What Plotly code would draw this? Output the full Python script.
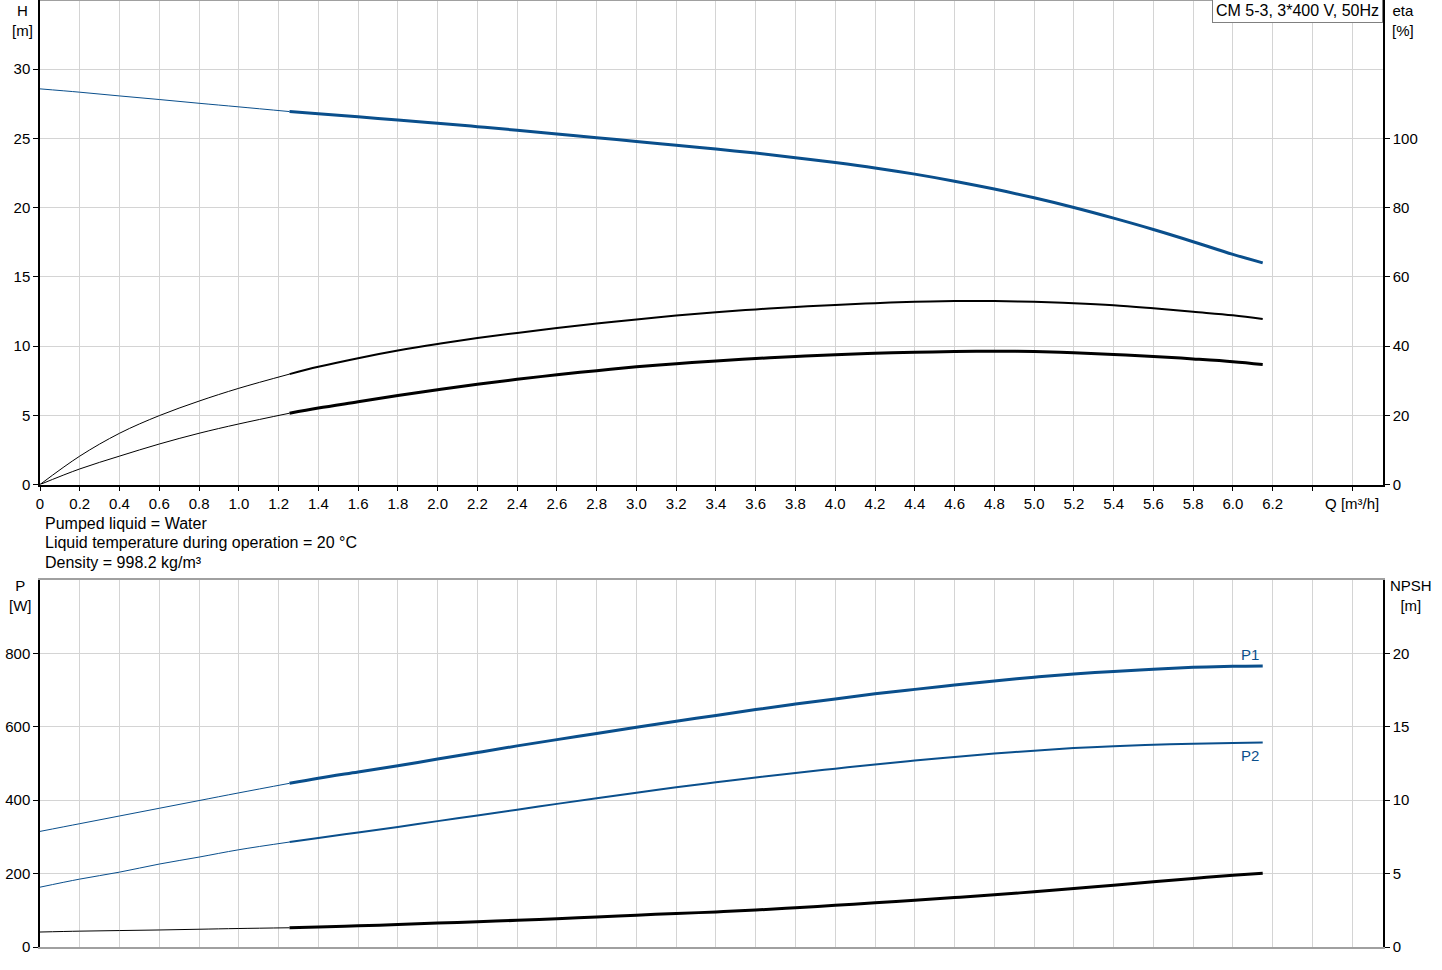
"""
Pump performance curves for CM 5-3 (head / efficiency and power / NPSH).
"""
import plotly.graph_objects as go

# flow rate [m3/h] - thin extension and normal operating range
q_ext = [0, 0.2, 0.4, 0.6, 0.8, 1.0, 1.255]
q_main = [1.255, 1.4, 1.6, 1.8, 2.0, 2.2, 2.4, 2.6, 2.8, 3.0, 3.2, 3.4, 3.6,
          3.8, 4.0, 4.2, 4.4, 4.6, 4.8, 5.0, 5.2, 5.4, 5.6, 5.8, 6.0, 6.15]

# head H [m]
h_ext = [28.58, 28.34, 28.07, 27.81, 27.54, 27.28, 26.94]
h_main = [26.94, 26.79, 26.56, 26.33, 26.10, 25.85, 25.59, 25.32, 25.05, 24.78,
          24.51, 24.23, 23.94, 23.61, 23.26, 22.87, 22.42, 21.91, 21.34, 20.71,
          20.01, 19.24, 18.42, 17.54, 16.62, 16.01]

# pump efficiency and total efficiency [%]
eta_p_ext = [0, 8.2, 14.8, 19.9, 24.1, 27.8, 31.9]
eta_p_main = [31.9, 34.0, 36.5, 38.7, 40.6, 42.3, 43.8, 45.2, 46.5, 47.7, 48.8,
              49.8, 50.6, 51.3, 51.9, 52.4, 52.8, 53.0, 53.0, 52.8, 52.4, 51.8,
              50.9, 49.9, 48.9, 47.8]
eta_ext = [0, 4.5, 8.2, 11.7, 14.8, 17.5, 20.6]
eta_main = [20.6, 22.1, 23.9, 25.7, 27.4, 29.0, 30.4, 31.7, 32.9, 34.0, 34.9,
            35.7, 36.4, 37.0, 37.5, 37.9, 38.2, 38.4, 38.5, 38.4, 38.1, 37.6,
            37.0, 36.3, 35.5, 34.7]

# power P1 / P2 [W]
p1_ext = [315, 336, 357, 378, 399, 420, 446]
p1_main = [446, 460, 477, 494, 512, 530, 548, 565, 582, 599, 615, 631, 647,
           662, 676, 690, 702, 714, 725, 735, 744, 751, 757, 762, 765, 766]
p2_ext = [163, 185, 204, 226, 245, 265, 286]
p2_main = [286, 297, 312, 327, 343, 358, 374, 390, 405, 420, 435, 449, 462,
           474, 486, 497, 508, 518, 527, 535, 542, 547, 551, 554, 556, 557]

# NPSH [m]
npsh_ext = [1.02, 1.08, 1.12, 1.16, 1.21, 1.26, 1.31]
npsh_main = [1.31, 1.36, 1.44, 1.53, 1.63, 1.72, 1.82, 1.93, 2.05, 2.17, 2.28,
             2.39, 2.52, 2.67, 2.84, 3.01, 3.19, 3.37, 3.56, 3.76, 3.98, 4.21,
             4.44, 4.67, 4.88, 5.02]

# axis ticks
q_ticks = [round(i * 0.2, 1) for i in range(34)]
q_labels = ["0"] + ["%.1f" % v for v in q_ticks[1:32]] + ["", "Q [m\u00b3/h]"]
h_ticks = [0, 5, 10, 15, 20, 25, 30]
eta_ticks = [0, 20, 40, 60, 80, 100]
p_ticks = [0, 200, 400, 600, 800]
npsh_ticks = [0, 5, 10, 15, 20]

info_lines = ["Pumped liquid = Water",
              "Liquid temperature during operation = 20 \u00b0C",
              "Density = 998.2 kg/m\u00b3"]
title_text = "CM 5-3, 3*400 V, 50Hz"

BLUE = "#0a4f8c"
BLACK = "#000000"
GRID = "#d4d4d4"
FONT = "Arial, Liberation Sans, sans-serif"

W, H = 1442, 970
L, R, T, B = 40, 59, 0, 23
PLOT_H = H - T - B


def px_x(x):
    return (x - L) / (W - L - R)


def px_y(y):
    return 1 - (y - T) / PLOT_H


def add_curve(fig, q_a, y_a, q_b, y_b, color, width, xaxis, yaxis):
    # thin extension outside the operating range
    fig.add_trace(go.Scatter(x=q_a, y=y_a, mode="lines", xaxis=xaxis, yaxis=yaxis,
                             line=dict(color=color, width=1, shape="spline"),
                             hoverinfo="skip"))
    fig.add_trace(go.Scatter(x=q_b, y=y_b, mode="lines", xaxis=xaxis, yaxis=yaxis,
                             line=dict(color=color, width=width, shape="spline")))


fig = go.Figure()

# top chart: head and efficiency
add_curve(fig, q_ext, h_ext, q_main, h_main, BLUE, 3, "x", "y")
add_curve(fig, q_ext, eta_p_ext, q_main, eta_p_main, BLACK, 2, "x", "y2")
add_curve(fig, q_ext, eta_ext, q_main, eta_main, BLACK, 3, "x", "y2")

# bottom chart: power and NPSH
add_curve(fig, q_ext, p1_ext, q_main, p1_main, BLUE, 3, "x2", "y3")
add_curve(fig, q_ext, p2_ext, q_main, p2_main, BLUE, 2, "x2", "y3")
add_curve(fig, q_ext, npsh_ext, q_main, npsh_main, BLACK, 3, "x2", "y4")

q_range = [0, 6.755]
top_dom = [px_y(484.5), 1]
bot_dom = [0, px_y(580)]
tick_font = dict(family=FONT, size=15, color="black")

common_x = dict(range=q_range, tickmode="array", tickvals=q_ticks,
                showgrid=True, gridcolor=GRID, gridwidth=1, zeroline=False,
                showline=True)

fig.update_layout(
    width=W, height=H,
    margin=dict(l=L, r=R, t=T, b=B),
    plot_bgcolor="white", paper_bgcolor="white",
    showlegend=False,
    font=dict(family=FONT, size=15, color="black"),
    xaxis=dict(common_x, anchor="y", domain=[0, 1], ticktext=q_labels,
               ticks="outside", ticklen=5, tickcolor="black",
               linecolor="black", linewidth=1.5, tickfont=tick_font),
    yaxis=dict(domain=top_dom, range=[0, 35], tickmode="array", tickvals=h_ticks,
               showgrid=True, gridcolor=GRID, zeroline=False, showline=True,
               linecolor="black", linewidth=1.5, ticks="outside", ticklen=5,
               tickcolor="black", tickfont=tick_font),
    yaxis2=dict(overlaying="y", side="right", anchor="x", range=[0, 140],
                tickmode="array", tickvals=eta_ticks, showgrid=False,
                zeroline=False, showline=True, linecolor="black", linewidth=1.5,
                ticks="outside", ticklen=5, tickcolor="black", tickfont=tick_font),
    xaxis2=dict(common_x, anchor="y3", domain=[0, 1], showticklabels=False,
                ticks="", linecolor="#a0a0a0", linewidth=2, mirror=True),
    yaxis3=dict(domain=bot_dom, range=[0, 1000], tickmode="array", tickvals=p_ticks,
                showgrid=True, gridcolor=GRID, zeroline=False, showline=True,
                linecolor="black", linewidth=1.5, ticks="outside", ticklen=5,
                tickcolor="black", tickfont=tick_font, anchor="x2"),
    yaxis4=dict(overlaying="y3", side="right", anchor="x2", range=[0, 25],
                tickmode="array", tickvals=npsh_ticks, showgrid=False,
                zeroline=False, showline=True, linecolor="black", linewidth=1.5,
                ticks="outside", ticklen=5, tickcolor="black", tickfont=tick_font),
)

# gray frame on top of the upper chart
fig.add_shape(type="line", xref="paper", yref="paper", x0=0, x1=1, y0=1, y1=1,
              line=dict(color="#a0a0a0", width=2))

annotations = []

# axis titles (top ones sit right at the window edge)
axis_titles = [("H<br>[m]", 22, 0, 0), ("eta<br>[%]", 1403, 0, 0),
               ("P<br>[W]", 20, 579, 4), ("NPSH<br>[m]", 1411, 579, 4)]
for text, x, y, shift in axis_titles:
    annotations.append(dict(text=text, xref="paper", yref="paper",
                            x=px_x(x), y=px_y(y), xanchor="center", yanchor="top",
                            yshift=shift, showarrow=False,
                            font=dict(family=FONT, size=15, color="black")))

# liquid info
for i, line in enumerate(info_lines):
    annotations.append(dict(text=line, xref="paper", yref="paper",
                            x=px_x(43), y=px_y(523 + i * 19.5),
                            xanchor="left", yanchor="middle", showarrow=False,
                            font=dict(family=FONT, size=16, color="black")))

# pump name box
annotations.append(dict(text=title_text, xref="paper", yref="paper", x=1, y=1,
                        xanchor="right", yanchor="top", yshift=2, showarrow=False,
                        bordercolor="#808080", borderwidth=1, borderpad=3,
                        bgcolor="white",
                        font=dict(family=FONT, size=16, color="black")))

# P1 / P2 labels at the curve ends
annotations.append(dict(text="P1", xref="x2", yref="y3", x=q_main[-1], y=p1_main[-1],
                        xanchor="right", yanchor="bottom", xshift=-2, yshift=1,
                        showarrow=False, font=dict(family=FONT, size=15, color=BLUE)))
annotations.append(dict(text="P2", xref="x2", yref="y3", x=q_main[-1], y=p2_main[-1],
                        xanchor="right", yanchor="top", xshift=-2, yshift=-2,
                        showarrow=False, font=dict(family=FONT, size=15, color=BLUE)))

fig.update_layout(annotations=annotations)

# drop the default page margin so the figure sits at the window corner
fig.write_html("out.html", config={"displayModeBar": False},
               post_script="document.body.style.margin='0px';")
